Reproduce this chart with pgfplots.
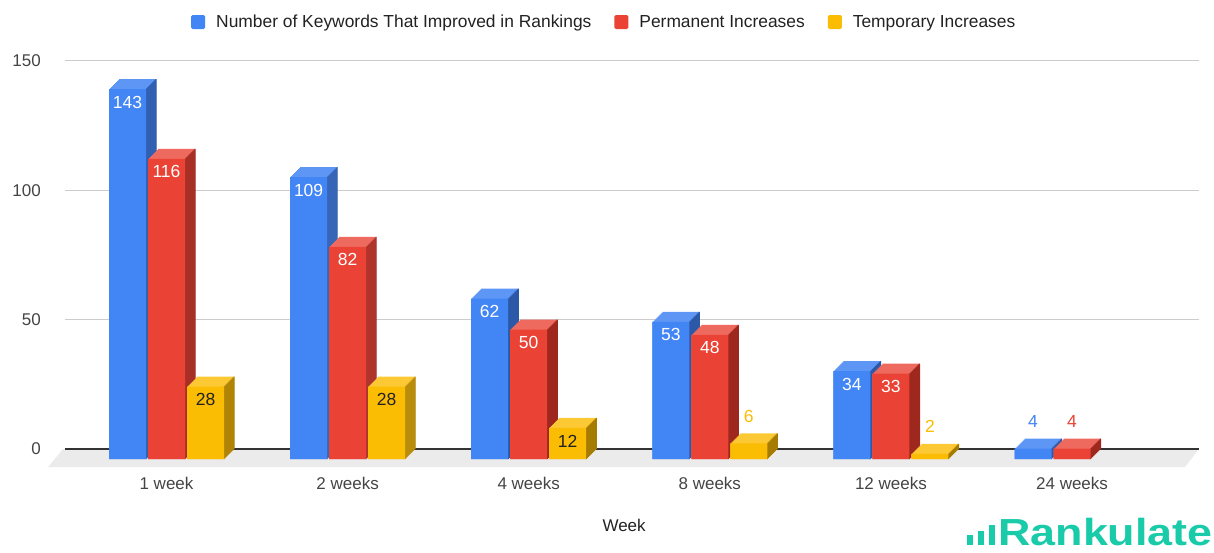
\documentclass[border=0pt]{standalone}
\usepackage{pgfplots}
\pgfplotsset{compat=1.18}
\usepackage{pgfplotstable}
\usepackage{fontspec}
\setmainfont{Liberation Sans}
\definecolor{bfront}{HTML}{4285F4}
\definecolor{btop}{HTML}{5E96F5}
\definecolor{bside}{HTML}{2C58A8}
\definecolor{rfront}{HTML}{EA4335}
\definecolor{rtop}{HTML}{EE6A5E}
\definecolor{rside}{HTML}{9E271E}
\definecolor{yfront}{HTML}{FBBC04}
\definecolor{ytop}{HTML}{FCC934}
\definecolor{yside}{HTML}{A67C00}
\definecolor{gridc}{HTML}{CCCCCC}
\definecolor{floorc}{HTML}{EBEBEB}
\definecolor{txt}{HTML}{444444}
\definecolor{ltxt}{HTML}{222222}
\definecolor{logoc}{HTML}{1ACBAA}
\newcommand{\tickf}{\fontsize{17}{20}\selectfont}
\newcommand{\legf}{\fontsize{17.4}{20}\selectfont}
\newcommand{\labf}{\fontsize{17.5}{20}\selectfont}

\pgfplotstableread{
x blue red yellow
0 143 116 28
1 109 82 28
2 62 50 12
3 53 48 6
4 34 33 2
5 4 4 0
}\datatable

% #1 column, #2 bar shift, #3 side shift, #4 front, #5 top, #6 side
\newcommand{\barseries}[6]{%
  \pgfplotsinvokeforeach{0,...,10}{%
    \addplot[forget plot, ybar, bar width=37pt, bar shift=#2pt, draw=none, fill=#5,
      restrict y to domain=0.5:1000,
      xshift={(##1-10)*1pt}, yshift={(##1-10)*1pt}] table[x=x,y=#1]{\datatable};
  }%
  \pgfplotsinvokeforeach{0,...,10}{%
    \addplot[forget plot, ybar, bar width=1.2pt, bar shift=#3pt, draw=none, fill=#6,
      restrict y to domain=0.5:1000,
      xshift={(##1-10)*1pt}, yshift={(##1-10)*1pt}] table[x=x,y=#1]{\datatable};
  }%
  \addplot[forget plot, ybar, bar width=37pt, bar shift=#2pt, draw=none, fill=#4,
    restrict y to domain=0.5:1000,
    xshift=-10pt, yshift=-10pt] table[x=x,y=#1]{\datatable};
}
% #1 column, #2 bar shift, #3 inside colour, #4 outside colour
\newcommand{\barlabels}[4]{%
  \addplot[forget plot, draw=none, mark=none,
    restrict y to domain=7:1000, nodes near coords,
    every node near coord/.append style={font=\labf, text=#3, anchor=center, inner sep=0pt, xshift={#2pt-10pt}, yshift=-23pt}]
    table[x=x,y=#1]{\datatable};
  \addplot[forget plot, draw=none, mark=none,
    restrict y to domain=0.5:6.5, nodes near coords,
    every node near coord/.append style={font=\labf, text=#4, anchor=center, inner sep=0pt, xshift={#2pt-10pt}, yshift=17pt}]
    table[x=x,y=#1]{\datatable};
}

\begin{document}
\begin{tikzpicture}
\path[use as bounding box] (0,0) rectangle (1214pt,552pt);
\fill[floorc] (63pt,103pt) -- (1199pt,103pt) -- (1185pt,85pt) -- (48pt,85pt) -- cycle;
\begin{axis}[
  at={(65pt,103pt)}, anchor=south west, scale only axis,
  width=1134pt, height=388pt,
  xmin=-0.6157, xmax=5.6461, ymin=0, ymax=150,
  clip=false,
  axis line style={draw=none},
  /pgf/number format/assume math mode=true,
  ytick={50,100,150},
  extra y ticks={0},
  extra y tick style={grid=major, major grid style={draw=black!80, line width=1.3pt}},
  ymajorgrids, major grid style={draw=gridc, line width=1pt},
  major tick length=0pt,
  xtick={0,...,5},
  xticklabels={1 week, 2 weeks, 4 weeks, 8 weeks, 12 weeks, 24 weeks},
  xticklabel style={anchor=center, inner sep=0pt, xshift=-10pt, yshift=-34pt, text=txt, font=\tickf},
  yticklabel style={anchor=east, inner sep=0pt, xshift=-24pt, text=txt, font=\tickf},
  xlabel={Week},
  xlabel style={at={(axis description cs:0.493,-0.196)}, anchor=center, font=\tickf, text=ltxt},
  legend image code/.code={\fill[#1, rounded corners=1.5pt] (0pt,-7pt) rectangle (14pt,7pt);},
  legend style={at={(0.4755,1.1005)}, anchor=center, draw=none, fill=none, font=\legf, text=ltxt,
    legend columns=-1, inner sep=0pt,
    /tikz/every odd column/.append style={column sep=9pt},
    /tikz/every even column/.append style={column sep=21pt}},
]
\addlegendimage{fill=bfront, draw=none}
\addlegendentry{Number of Keywords That Improved in Rankings}
\addlegendimage{fill=rfront, draw=none}
\addlegendentry{Permanent Increases}
\addlegendimage{fill=yfront, draw=none}
\addlegendentry{Temporary Increases}

\barseries{blue}{-39}{-20.5}{bfront}{btop}{bside}
\barseries{red}{0}{18.5}{rfront}{rtop}{rside}
\barseries{yellow}{39}{57.5}{yfront}{ytop}{yside}

\barlabels{blue}{-39}{white}{bfront}
\barlabels{red}{0}{white}{rfront}
\barlabels{yellow}{39}{ltxt}{yfront}
\end{axis}
\fill[logoc] (967pt,7pt) rectangle (973pt,17pt);
\fill[logoc] (978pt,7pt) rectangle (984pt,21pt);
\fill[logoc] (989pt,7pt) rectangle (995pt,27pt);
\node[anchor=base west, inner sep=0pt, text=logoc, font=\fontsize{37.7}{40}\selectfont\bfseries, xscale=1.19] at (998pt,7pt) {Rankulate};
\end{tikzpicture}
\end{document}
